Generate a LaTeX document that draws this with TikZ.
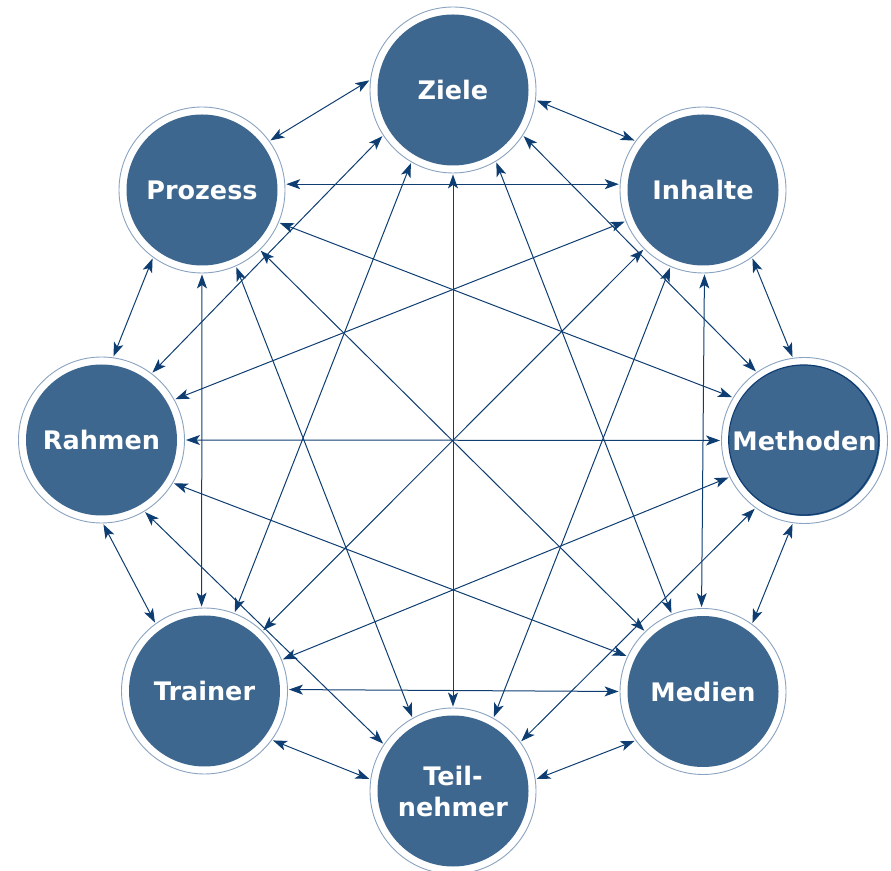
\documentclass[tikz,border=0pt]{standalone}
\usepackage{fontspec}
\newfontfamily\topicfont{DejaVu Sans}
\usetikzlibrary{arrows.meta}
\definecolor{topicblue}{RGB}{62,103,143}
\definecolor{ringblue}{RGB}{138,163,192}
\definecolor{linkblue}{RGB}{14,61,114}

\begin{document}
\begin{tikzpicture}[x=1pt,y=1pt,>={Stealth[length=14pt,width=10pt,inset=3.5pt]},
      topic/.style={circle,minimum size=166pt,inner sep=0pt,draw=ringblue,line width=0.9pt,fill=white,
        path picture={\fill[topicblue] (path picture bounding box.center) circle (75.5pt);},
        text=white,align=center,font=\topicfont\bfseries\fontsize{25.5pt}{31pt}\selectfont},
      rimmed/.style={path picture={\fill[topicblue] (path picture bounding box.center) circle (75.5pt);
        \draw[linkblue,line width=1.2pt] ([xshift=-0.8pt,yshift=0.5pt]path picture bounding box.center) circle (75pt);}},
      link/.style={<->,draw=linkblue,line width=1pt,shorten <=1pt,shorten >=1pt}]
  \useasboundingbox (0,0) rectangle (891,870);
  % the eight topics
  \node[topic] (ziele)    at (453,780)   {Ziele};
  \node[topic] (inhalte)  at (703,680)   {Inhalte};
  \node[topic,rimmed] (methoden) at (804.5,429.5) {Methoden};
  \node[topic] (medien)   at (703,178.5) {Medien};
  \node[topic] (teil)     at (453,79)    {Teil-\\nehmer};
  \node[topic] (trainer)  at (204.5,179) {Trainer};
  \node[topic] (rahmen)   at (101.5,430) {Rahmen};
  \node[topic] (prozess)  at (202,680)   {Prozess};
  % every topic with every other
  \foreach \a/\aa/\b/\bb in {ziele/173/prozess/36, ziele/353/inhalte/144, ziele/213/rahmen/53,
      ziele/240/trainer/69, ziele/270/teil/90, ziele/301/medien/112, ziele/327/methoden/125,
      inhalte/176/prozess/4, inhalte/202/rahmen/29, inhalte/225/trainer/46, inhalte/247/teil/61,
      inhalte/271/medien/91, inhalte/306/methoden/98,
      methoden/149/prozess/337, methoden/180/rahmen/0, methoden/206/trainer/22,
      methoden/234/teil/36, methoden/262/medien/54,
      medien/134/prozess/314, medien/155/rahmen/329, medien/180/trainer/1, medien/216/teil/8,
      teil/119/prozess/294, teil/146/rahmen/301, teil/172/trainer/324,
      trainer/92/prozess/270, trainer/126/rahmen/271, rahmen/82/prozess/234}
    \draw[link] (\a.\aa) -- (\b.\bb);
\end{tikzpicture}
\end{document}
